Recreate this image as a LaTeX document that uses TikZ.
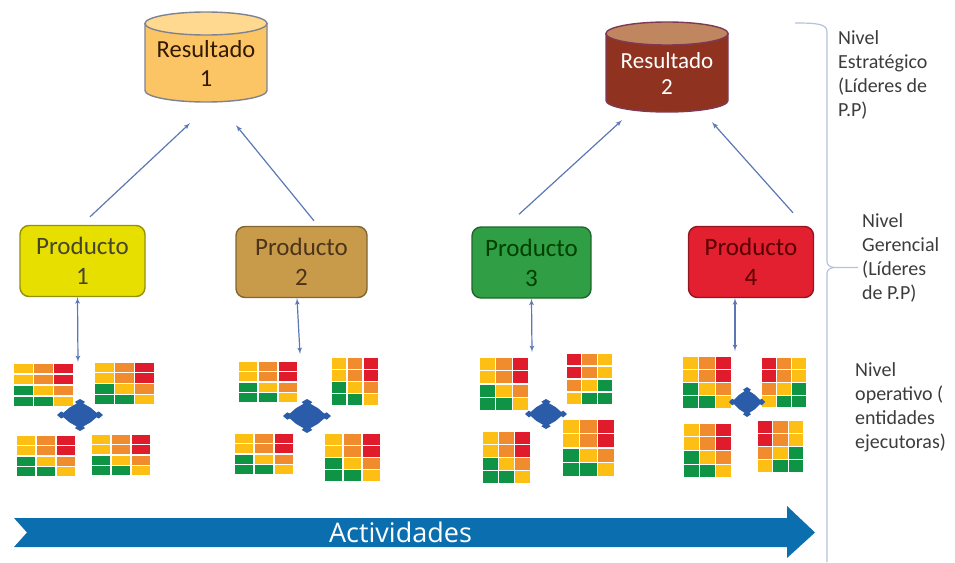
\documentclass[tikz,border=0pt]{standalone}
\usepackage{fontspec}
\usepackage{tikz}
\setmainfont{Carlito}
\newfontfamily\bandafont{Open Sans}
\usetikzlibrary{arrows}
\definecolor{azulflecha}{HTML}{5B78B4}
\definecolor{azulrombo}{HTML}{2A5CAA}
\definecolor{azulbanda}{HTML}{0B6FAF}
\definecolor{llave}{HTML}{B4C2DE}
\definecolor{textonivel}{HTML}{3C3C3C}
\definecolor{tonoA}{HTML}{FDBF14}
\definecolor{tonoB}{HTML}{F08C2E}
\definecolor{tonoC}{HTML}{E01B2B}
\definecolor{tonoD}{HTML}{0E9444}
\definecolor{cuerpoA}{HTML}{FBC565}
\definecolor{tapaA}{HTML}{FFD98F}
\definecolor{bordeA}{HTML}{7F8391}
\definecolor{cuerpoB}{HTML}{8F3320}
\definecolor{tapaB}{HTML}{C08660}
\definecolor{bordeB}{HTML}{7E3A55}
\definecolor{prodA}{HTML}{E6DF00}
\definecolor{prodB}{HTML}{C89B4B}
\definecolor{prodC}{HTML}{2F9E44}
\definecolor{prodD}{HTML}{E2202F}
\tikzset{prod/.style = {draw = #1!65!black, fill = #1, rounded corners = 9pt, line width = 1.4pt,
                        minimum width = 125pt, minimum height = 71pt, align = center, inner sep = 0,
                        font = \fontsize{25}{30}\selectfont}}
\tikzset{res/.style = {minimum width = 122pt, minimum height = 77pt, align = center, inner sep = 0,
                       font = \fontsize{24.5}{29}\selectfont}}
\tikzset{nivel/.style = {anchor = north west, align = left, inner sep = 0, text = textonivel,
                         font = \fontsize{20}{24}\selectfont}}
\tikzset{flecha/.style = {azulflecha, line width = 1.2pt, ->, >=latex'}}
\tikzset{doble/.style = {azulflecha, line width = 1.2pt, <->, >=latex'}}
\newcommand{\cilindro}[6]{
        \filldraw [draw = #6, fill = #4, line width = 1.4pt] (#1 - 61, #2 + 11.5) -- (#1 - 61, #3 - 11.5)
                arc [start angle = 180, end angle = 360, x radius = 61pt, y radius = 11.5pt] -- (#1 + 61, #2 + 11.5) -- cycle;
        \filldraw [draw = #6, fill = #5, line width = 1.4pt] (#1, #2 + 11.5) ellipse [x radius = 61pt, y radius = 11.5pt];}
\newcommand{\tablero}[5]{
        \begin{scope}[shift = {(#1, #2)}, xscale = #3/3, yscale = #4/4]
                \foreach \c/\r/\t in #5
                        \fill [\t] (\c + 0.04, \r + 0.05) rectangle (\c + 0.96, \r + 0.95);
        \end{scope}}
\newcommand{\rombo}[4]{
        \fill [azulrombo, shift = {(#1, #2)}, xscale = #3, yscale = #4]
                (1, 0) -- (0.82, 0.22) -- (0.72, 0.14) -- (0.46, 0.46) -- (0.14, 0.72) -- (0.22, 0.82) -- (0, 1)
                -- (-0.22, 0.82) -- (-0.14, 0.72) -- (-0.46, 0.46) -- (-0.72, 0.14) -- (-0.82, 0.22) -- (-1, 0)
                -- (-0.82, -0.22) -- (-0.72, -0.14) -- (-0.46, -0.46) -- (-0.14, -0.72) -- (-0.22, -0.82) -- (0, -1)
                -- (0.22, -0.82) -- (0.14, -0.72) -- (0.46, -0.46) -- (0.72, -0.14) -- (0.82, -0.22) -- cycle;}
\def\izq{0/0/tonoA, 1/0/tonoB, 2/0/tonoC, 0/1/tonoA, 1/1/tonoB, 2/1/tonoC, 0/2/tonoD, 1/2/tonoA, 2/2/tonoB, 0/3/tonoD, 1/3/tonoD, 2/3/tonoA}
\def\der{0/0/tonoC, 1/0/tonoB, 2/0/tonoA, 0/1/tonoC, 1/1/tonoB, 2/1/tonoA, 0/2/tonoB, 1/2/tonoA, 2/2/tonoD, 0/3/tonoA, 1/3/tonoD, 2/3/tonoD}
\begin{document}
\begin{tikzpicture}[x = 1pt, y = -1pt]
        \useasboundingbox (0, 0) rectangle (955, 562);
        \cilindro{206}{12}{102}{cuerpoA}{tapaA}{bordeA}
        \cilindro{667}{22}{112}{cuerpoB}{tapaB}{bordeB}
        \node (res1) at (206, 63.5) [res, text = black!80!orange] {Resultado\\1};
        \node (res2) at (667, 73.5) [res, text = white, font = \fontsize{23}{26}\selectfont] {Resultado\\2};
        \node (prod1) at (82.5, 261) [prod = prodA, text = olive!35!black] {Producto\\1};
        \node (prod2) at (301.5, 262) [prod = prodB, minimum width = 131pt, text = brown!40!black] {Producto\\2};
        \node (prod3) at (531.5, 262.5) [prod = prodC, minimum width = 119pt, text = green!25!black] {Producto\\3};
        \node (prod4) at (751, 262) [prod = prodD, text = red!35!black] {Producto\\4};
        \draw [flecha] ([shift = {(7.5, -8)}]prod1.north) -- ([shift = {(-16, 21)}]res1.south);
        \draw [flecha] ([shift = {(12.5, -5)}]prod2.north) -- ([shift = {(30, 23)}]res1.south);
        \draw [flecha] ([shift = {(-12.5, -12)}]prod3.north) -- ([shift = {(-45, 8)}]res2.south);
        \draw [flecha] ([shift = {(42, -13)}]prod4.north) -- ([shift = {(45, 10)}]res2.south);
        \coordinate (tab1) at (78, 362);
        \coordinate (tab2) at (300, 354);
        \coordinate (tab3) at (532, 352);
        \coordinate (tab4) at (735, 351);
        \draw [doble] ([xshift = -5]prod1.south) -- (tab1);
        \draw [doble] ([xshift = -4.5]prod2.south) -- (tab2);
        \draw [doble] (prod3.south) -- (tab3);
        \draw [doble] ([xshift = -16]prod4.south) -- (tab4);
        \tablero{13}{363}{61}{44}{\izq}
        \tablero{94}{362}{61}{43}{\izq}
        \tablero{16}{435}{60}{42}{\izq}
        \tablero{91}{434}{60}{42}{\izq}
        \rombo{80}{415}{23}{16}
        \tablero{238}{361}{60}{42}{\izq}
        \tablero{331}{357}{48}{49}{\izq}
        \tablero{234}{433}{60}{42}{\izq}
        \tablero{324}{433}{57}{49}{\izq}
        \rombo{307}{416}{24}{17}
        \tablero{479}{357}{50}{54}{\izq}
        \tablero{566}{353}{47}{52}{\der}
        \tablero{482}{431}{49}{53}{\izq}
        \tablero{562}{419}{53}{58}{\izq}
        \rombo{546}{414}{21}{15}
        \tablero{682}{356}{50}{53}{\izq}
        \tablero{761}{357}{46}{51}{\der}
        \tablero{683}{423}{49}{55}{\izq}
        \tablero{757}{420}{47}{53}{\der}
        \rombo{747}{402}{18}{15}
        \fill [azulbanda] (14, 518) -- (787, 518) -- (787, 506) -- (815, 532.5) -- (787, 558) -- (787, 547) -- (14, 547) -- (27, 532.5) -- cycle;
        \node (banda) at (400.5, 532.5) [fill = azulbanda, minimum width = 193pt, minimum height = 29pt, inner sep = 0, text = white, font = \bandafont\fontsize{27}{30}\selectfont] {Actividades};
        \draw [llave, line width = 1.2pt] (795, 23) .. controls (818, 23) and (827, 24) .. (827, 32) -- (827, 262) .. controls (827, 265) and (830, 267) .. (834, 267.5) -- (858, 267.5);
        \draw [llave, line width = 1.2pt] (834, 267.5) .. controls (830, 268) and (827, 270) .. (827, 273) -- (827, 562);
        \node (estrategico) at (838, 30) [nivel] {Nivel\\Estrat\'egico\\(L\'ideres de\\P.P)};
        \node (gerencial) at (862, 213) [nivel] {Nivel\\Gerencial\\(L\'ideres\\de P.P)};
        \node (operativo) at (855, 362) [nivel] {Nivel\\operativo (\\entidades\\ejecutoras)};
\end{tikzpicture}
\end{document}
